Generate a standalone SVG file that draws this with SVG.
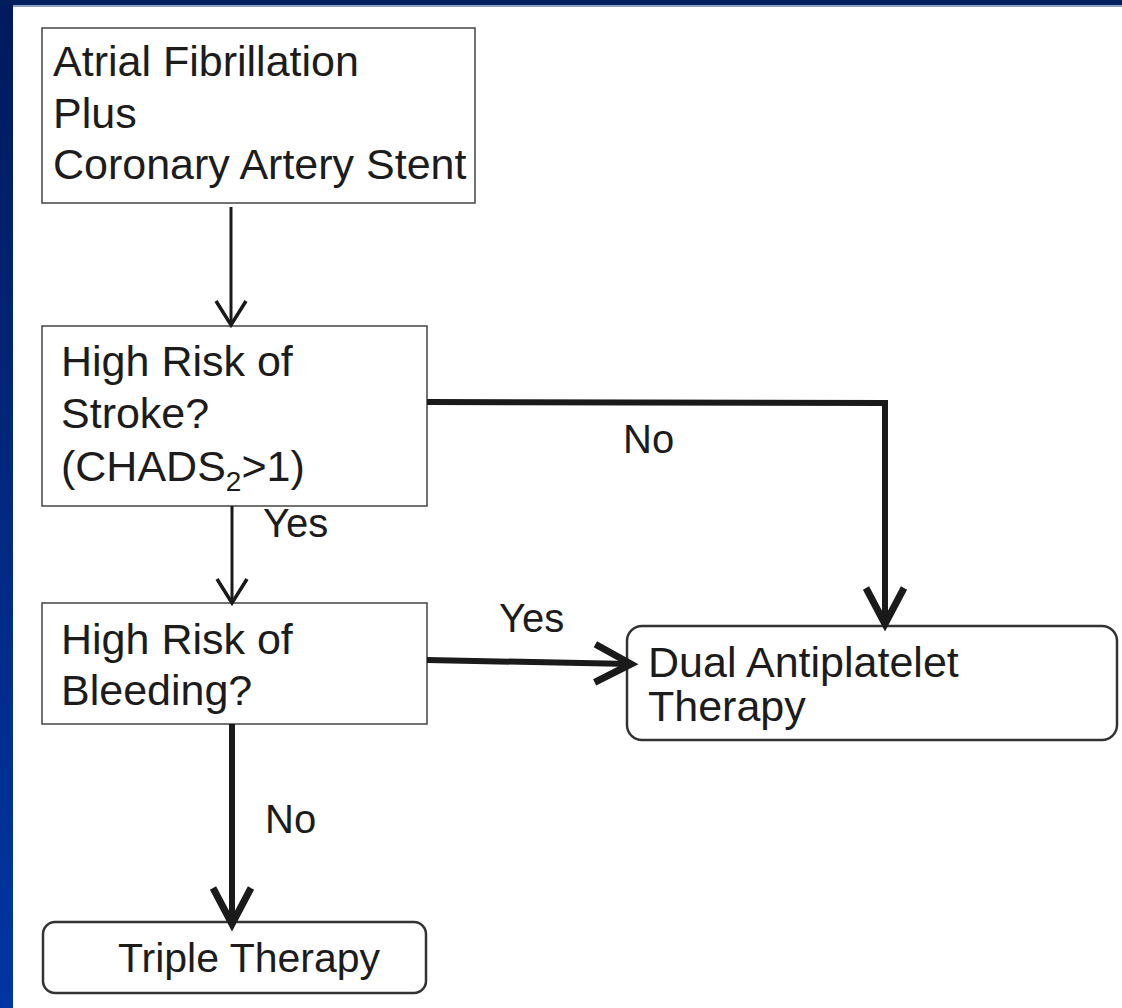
<svg xmlns="http://www.w3.org/2000/svg" width="1122" height="1008" viewBox="0 0 1122 1008">
<defs>
<linearGradient id="side" x1="0" y1="0" x2="0" y2="1">
<stop offset="0" stop-color="#001a5c"/>
<stop offset="1" stop-color="#0036a3"/>
</linearGradient>
<marker id="thin" markerUnits="userSpaceOnUse" orient="auto" markerWidth="60" markerHeight="60" viewBox="-40 -30 60 60" refX="0" refY="0" overflow="visible">
<path d="M-24,-15 L0,0 L-24,15" fill="none" stroke="#1a1a1a" stroke-width="3.5" stroke-linejoin="miter"/>
</marker>
<marker id="thick" markerUnits="userSpaceOnUse" orient="auto" markerWidth="80" markerHeight="80" viewBox="-50 -40 80 80" refX="0" refY="0" overflow="visible">
<path d="M-36,-19 L0,0 L-36,19" fill="none" stroke="#1a1a1a" stroke-width="7" stroke-linejoin="miter"/>
</marker>
</defs>
<style>
.box{fill:#fff;stroke:#444;stroke-width:1.5}
.rbox{fill:#fff;stroke:#333;stroke-width:2.5}
.t{font-family:"Liberation Sans",Arial,Helvetica,sans-serif;font-size:43px;fill:#1c1c1c}
.t2{font-size:41px}
.sub{font-size:28px}
.lbl{font-family:"Liberation Sans",Arial,Helvetica,sans-serif;font-size:40px;fill:#1c1c1c}
.c1{fill:none;stroke:#1a1a1a;stroke-width:3}
.c2{fill:none;stroke:#1a1a1a;stroke-width:6}
</style>
<rect x="0" y="0" width="1122" height="1008" fill="#ffffff"/>
<rect x="0" y="0" width="13" height="1008" fill="url(#side)"/>
<rect x="0" y="0" width="1122" height="5" fill="#001f5c"/>
<rect x="13" y="5" width="1109" height="2" fill="#8da0c8"/>

<g id="node-af">
<rect class="box" x="42" y="28" width="433" height="175"/>
<text class="t" x="53" y="76">Atrial Fibrillation</text>
<text class="t" x="53" y="128">Plus</text>
<text class="t" x="53" y="179">Coronary Artery Stent</text>
</g>
<g id="node-stroke">
<rect class="box" x="42" y="326" width="385" height="180"/>
<text class="t" x="61" y="376">High Risk of</text>
<text class="t" x="61" y="428">Stroke?</text>
<text class="t" x="61" y="481">(CHADS<tspan class="sub" dy="10">2</tspan><tspan dy="-10">&gt;1)</tspan></text>
</g>
<g id="node-bleed">
<rect class="box" x="42" y="603" width="385" height="121"/>
<text class="t" x="61" y="654">High Risk of</text>
<text class="t" x="61" y="705">Bleeding?</text>
</g>
<g id="node-dual">
<rect class="rbox" x="627" y="626" width="490" height="114" rx="15"/>
<text class="t" x="648" y="677">Dual Antiplatelet</text>
<text class="t" x="648" y="721">Therapy</text>
</g>
<g id="node-triple">
<rect class="rbox" x="43" y="922" width="383" height="71" rx="12"/>
<text class="t t2" x="118" y="972">Triple Therapy</text>
</g>

<g id="connectors">
<line class="c1" x1="231" y1="207" x2="231" y2="325" marker-end="url(#thin)"/>
<line class="c1" x1="232" y1="506" x2="232" y2="603" marker-end="url(#thin)"/>
<polyline class="c2" points="427,402 885,403 885,624" marker-end="url(#thick)"/>
<line class="c2" x1="427" y1="660" x2="631" y2="664" marker-end="url(#thick)"/>
<line class="c2" x1="232" y1="724" x2="232" y2="924" marker-end="url(#thick)"/>
<text class="lbl" x="623" y="453">No</text>
<text class="lbl" x="263" y="537">Yes</text>
<text class="lbl" x="499" y="632">Yes</text>
<text class="lbl" x="265" y="833">No</text>
</g>
</svg>
